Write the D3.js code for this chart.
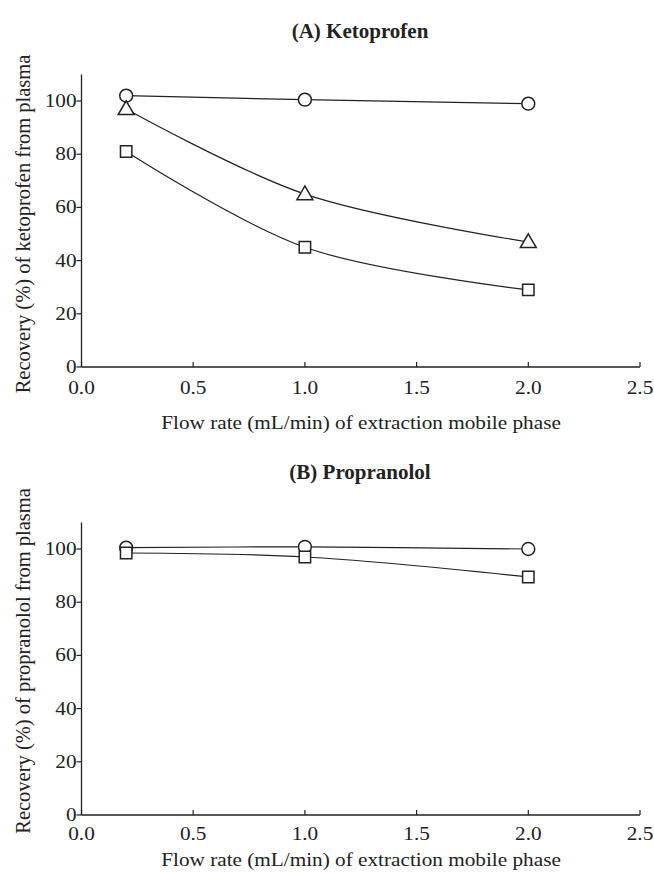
<!DOCTYPE html>
<html>
<head>
<meta charset="utf-8">
<script src="https://cdn.jsdelivr.net/npm/d3@7"></script>
<style>
  body { margin: 0; background: #fff; }
  text { font-family: "Liberation Serif", "Times New Roman", serif; fill: #222; }
</style>
</head>
<body>
<svg id="chart" width="654" height="873"></svg>
<script>
// flow rates (mL/min)
var flowRates = [0.2, 1.0, 2.0];
var xTicks = [0, 0.5, 1.0, 1.5, 2.0, 2.5];
var yTicks = [0, 20, 40, 60, 80, 100];

// (A) ketoprofen recoveries
var ketoCircle = [102, 100.5, 99];
var ketoTriangle = [97, 65, 47];
var ketoSquare = [81, 45, 29];

// (B) propranolol recoveries
var propCircle = [100.5, 100.8, 100];
var propSquare = [98.5, 97, 89.5];

var svg = d3.select("#chart");
var ink = "#222";
var stretch = 1.18; // the original text is a bit wide

function wide(px, py) {
    return "translate(" + px + "," + py + ") scale(" + stretch + ",1)";
}

function drawPanel(opts) {
    var x = d3.scaleLinear().domain([0, 2.5]).range([81.5, 640]);
    var y = d3.scaleLinear().domain([0, 110]).range([opts.y0, opts.y0 - 110 * 2.66]);

    var g = svg.append("g");

    // title
    g.append("text")
        .attr("x", 360).attr("y", opts.titleY)
        .attr("text-anchor", "middle")
        .style("font-weight", "bold")
        .style("font-size", "21px")
        .text(opts.title);

    // axes lines
    g.append("line")
        .attr("x1", x(0)).attr("x2", x(2.5))
        .attr("y1", y(0)).attr("y2", y(0))
        .attr("stroke", ink).attr("stroke-width", 1.3);
    g.append("line")
        .attr("x1", x(0)).attr("x2", x(0))
        .attr("y1", y(0)).attr("y2", y(110))
        .attr("stroke", ink).attr("stroke-width", 1.3);

    // x ticks (inside)
    g.selectAll(".xt").data(xTicks).enter().append("line")
        .attr("x1", function (d) { return x(d); })
        .attr("x2", function (d) { return x(d); })
        .attr("y1", y(0)).attr("y2", y(0) - 5)
        .attr("stroke", ink).attr("stroke-width", 1.2);
    g.selectAll(".xl").data(xTicks).enter().append("text")
        .attr("transform", function (d) { return wide(x(d), y(0) + opts.xLabOff); })
        .attr("text-anchor", "middle")
        .style("font-size", "18px")
        .text(function (d) { return d3.format(".1f")(d); });

    // y ticks (outside)
    g.selectAll(".yt").data(yTicks).enter().append("line")
        .attr("x1", x(0) - 5).attr("x2", x(0))
        .attr("y1", function (d) { return y(d); })
        .attr("y2", function (d) { return y(d); })
        .attr("stroke", ink).attr("stroke-width", 1.2);
    g.selectAll(".yl").data(yTicks).enter().append("text")
        .attr("transform", function (d) { return wide(x(0) - 5, y(d) + 6); })
        .attr("text-anchor", "end")
        .style("font-size", "18px")
        .text(function (d) { return d; });

    // axis titles
    g.append("text")
        .attr("transform", wide(361, opts.xTitleY))
        .attr("text-anchor", "middle")
        .style("font-size", "18px")
        .text("Flow rate (mL/min) of extraction mobile phase");
    g.append("text")
        .attr("transform", "translate(30," + opts.yTitleC + ") rotate(-90)")
        .attr("text-anchor", "middle")
        .style("font-size", "20.5px")
        .text(opts.yTitle);

    var line = d3.line()
        .x(function (d, i) { return x(flowRates[i]); })
        .y(function (d) { return y(d); })
        .curve(d3.curveCatmullRom.alpha(0.5));

    opts.series.forEach(function (s) {
        g.append("path")
            .datum(s.values)
            .attr("d", line)
            .attr("fill", "none")
            .attr("stroke", ink)
            .attr("stroke-width", 1.2);

        var sym = d3.symbol()
            .type(s.shape === "circle" ? d3.symbolCircle : s.shape === "square" ? d3.symbolSquare : d3.symbolTriangle)
            .size(s.shape === "circle" ? 130 : s.shape === "square" ? 130 : 110);

        g.selectAll(null).data(s.values).enter().append("path")
            .attr("d", sym)
            .attr("transform", function (d, i) {
                return "translate(" + x(flowRates[i]) + "," + (y(d) + (s.shape === "triangle" ? 1 : 0)) + ")";
            })
            .attr("fill", "#fff")
            .attr("stroke", ink)
            .attr("stroke-width", 1.5);
    });
}

drawPanel({
    title: "(A) Ketoprofen",
    titleY: 38,
    y0: 367,
    xLabOff: 27,
    xTitleY: 429,
    yTitle: "Recovery (%) of ketoprofen from plasma",
    yTitleC: 224,
    series: [
        { shape: "circle", values: ketoCircle },
        { shape: "triangle", values: ketoTriangle },
        { shape: "square", values: ketoSquare }
    ]
});

drawPanel({
    title: "(B) Propranolol",
    titleY: 479,
    y0: 815,
    xLabOff: 25,
    xTitleY: 866,
    yTitle: "Recovery (%) of propranolol from plasma",
    yTitleC: 661,
    series: [
        { shape: "circle", values: propCircle },
        { shape: "square", values: propSquare }
    ]
});
</script>
</body>
</html>
